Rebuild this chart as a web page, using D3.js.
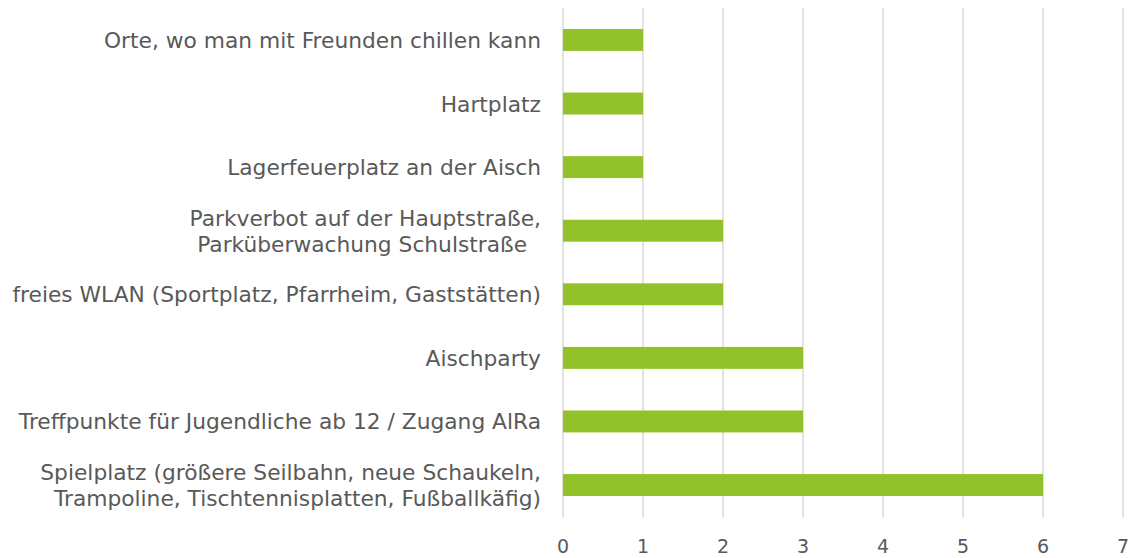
<!DOCTYPE html>
<html>
<head>
<meta charset="utf-8">
<script src="https://d3js.org/d3.v7.min.js"></script>
<style>
  body { margin: 0; background: #fff; }
  text { font-family: "DejaVu Sans", sans-serif; fill: #595959; }
  .grid line { stroke: #d9d9d9; stroke-width: 1.5px; }
</style>
</head>
<body>
<svg id="chart" width="1132" height="558"></svg>
<script>
// categories from top to bottom, each label split into its lines
const categories = [
  ["Orte, wo man mit Freunden chillen kann"],
  ["Hartplatz"],
  ["Lagerfeuerplatz an der Aisch"],
  ["Parkverbot auf der Hauptstraße,", "Parküberwachung Schulstraße\u00a0\u00a0"],
  ["freies WLAN (Sportplatz, Pfarrheim, Gaststätten)"],
  ["Aischparty"],
  ["Treffpunkte für Jugendliche ab 12 / Zugang AlRa"],
  ["Spielplatz (größere Seilbahn, neue Schaukeln,", "Trampoline, Tischtennisplatten, Fußballkäfig)"]
];
const values = [1, 1, 1, 2, 2, 3, 3, 6];
const ticks = [0, 1, 2, 3, 4, 5, 6, 7];

const svg = d3.select("#chart");
const margin = {top: 8, right: 10, bottom: 41, left: 563};
const width = +svg.attr("width"), height = +svg.attr("height");

const x = d3.scaleLinear().domain([0, 7]).range([margin.left, margin.left + 560]);
const y = d3.scaleBand().domain(d3.range(categories.length))
            .range([margin.top, height - margin.bottom]).paddingInner(0.655).paddingOuter(0.33);

// fit label font so the widest label spans about 529px
const probe = svg.append("text").attr("font-size", 20).text(categories[4][0]);
const fs = 20 * 529 / probe.node().getComputedTextLength();
probe.remove();

// vertical gridlines
svg.append("g").attr("class", "grid")
   .selectAll("line").data(ticks).join("line")
   .attr("x1", d => x(d)).attr("x2", d => x(d))
   .attr("y1", margin.top).attr("y2", height - margin.bottom);

// bars
svg.append("g").selectAll("rect").data(values).join("rect")
   .attr("x", x(0))
   .attr("y", (d, i) => y(i))
   .attr("width", d => x(d) - x(0))
   .attr("height", y.bandwidth())
   .attr("fill", "#93c12a");

// category labels
const lh = 26;
const labels = svg.append("g").selectAll("text").data(categories).join("text")
   .attr("text-anchor", "end")
   .attr("font-size", fs)
   .attr("x", 541)
   .attr("y", (d, i) => y(i) + y.bandwidth() / 2)
   .attr("dominant-baseline", "central")
   .style("white-space", "pre");
labels.selectAll("tspan").data(d => d.map((t, j) => ({t, j, n: d.length}))).join("tspan")
   .attr("x", 541)
   .attr("dy", d => d.j === 0 ? -(d.n - 1) * lh / 2 : lh)
   .text(d => d.t);

// x axis tick labels
svg.append("g").selectAll("text").data(ticks).join("text")
   .attr("x", d => x(d))
   .attr("y", 553)
   .attr("text-anchor", "middle")
   .attr("font-size", 19)
   .text(d => d);
</script>
</body>
</html>
